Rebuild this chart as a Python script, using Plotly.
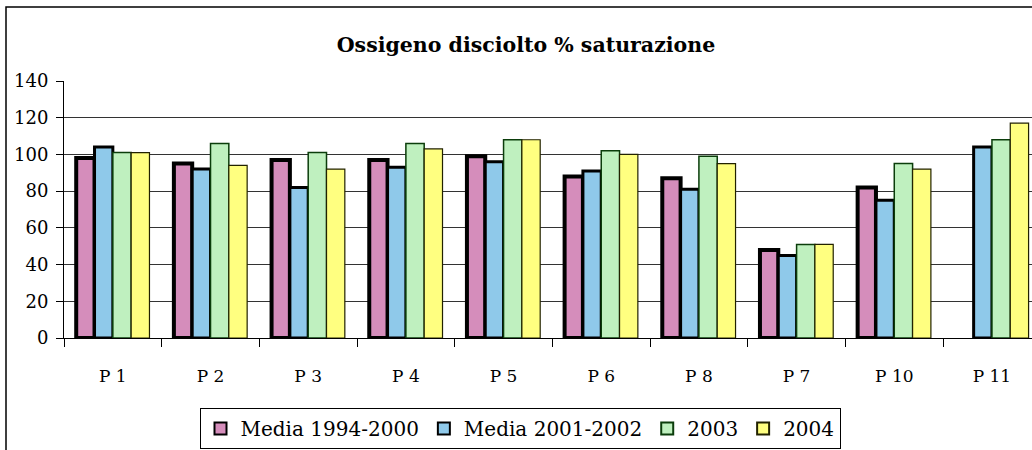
import plotly.graph_objects as go

categories = ["P 1", "P 2", "P 3", "P 4", "P 5", "P 6", "P 8", "P 7", "P 10", "P 11"]
media_1994_2000 = [98, 95, 97, 97, 99, 88, 87, 48, 82, None]
media_2001_2002 = [104, 92, 82, 93, 96, 91, 81, 45, 75, 104]
anno_2003 = [101, 106, 101, 106, 108, 102, 99, 51, 95, 108]
anno_2004 = [101, 94, 92, 103, 108, 100, 95, 51, 92, 117]
y_ticks = [0, 20, 40, 60, 80, 100, 120, 140]

FONT = "DejaVu Serif"

series = [
    ("Media 1994-2000", media_1994_2000, "#D58DBB", "#000000", 4),
    ("Media 2001-2002", media_2001_2002, "#8FC9EA", "#000000", 3),
    ("2003", anno_2003, "#BFF0BF", "#0B3D0B", 1.5),
    ("2004", anno_2004, "#FFFF80", "#222200", 1.2),
]

fig = go.Figure()
for name, vals, fill, line, lw in series:
    fig.add_trace(go.Bar(
        x=categories, y=vals, name=name,
        marker=dict(color=fill, line=dict(color=line, width=lw)),
    ))

fig.update_layout(
    width=1032, height=450,
    margin=dict(l=64, r=0, t=81, b=112),
    paper_bgcolor="white", plot_bgcolor="white",
    barmode="group", bargap=0.25, bargroupgap=0.0,
    font=dict(family=FONT, color="#000000", size=17),
    title=dict(text="<b>Ossigeno disciolto % saturazione</b>",
               x=526 / 1032, xanchor="center", y=1 - 45 / 450, yanchor="middle",
               font=dict(family=FONT, size=20.5, color="#000000")),
    showlegend=True,
    legend=dict(orientation="h", x=(520 - 64) / 968, xanchor="center",
                y=(338 - 408) / 257, yanchor="top",
                bordercolor="#000000", borderwidth=1, bgcolor="white",
                font=dict(family=FONT, size=20, color="#000000"),
                itemsizing="constant", traceorder="normal"),
    xaxis=dict(type="category", range=[-0.5, 9.41],
               tickson="boundaries", ticks="outside", ticklen=8, tickcolor="#000000",
               showline=True, linecolor="#000000", linewidth=1,
               showgrid=False, ticklabelstandoff=23,
               tickfont=dict(family=FONT, size=17)),
    yaxis=dict(range=[0, 140], tickvals=y_ticks, ticks="outside", ticklen=7,
               tickcolor="#000000", showline=True, linecolor="#000000", linewidth=1,
               showgrid=True, gridcolor="#333333", gridwidth=1,
               zeroline=False, tickfont=dict(family=FONT, size=18),
               ticklabelstandoff=4),
)

# outer chart border (extends past the visible window on right and bottom)
fig.add_shape(type="rect", xref="paper", yref="paper",
              x0=(6 - 64) / 968, x1=1.05, y0=(338 - 470) / 257, y1=(338 - 7) / 257,
              line=dict(color="#000000", width=1.5), fillcolor="rgba(0,0,0,0)",
              layer="below")

fig.write_html("out.html", config={"displayModeBar": False},
               post_script="document.body.style.margin='0px';")
